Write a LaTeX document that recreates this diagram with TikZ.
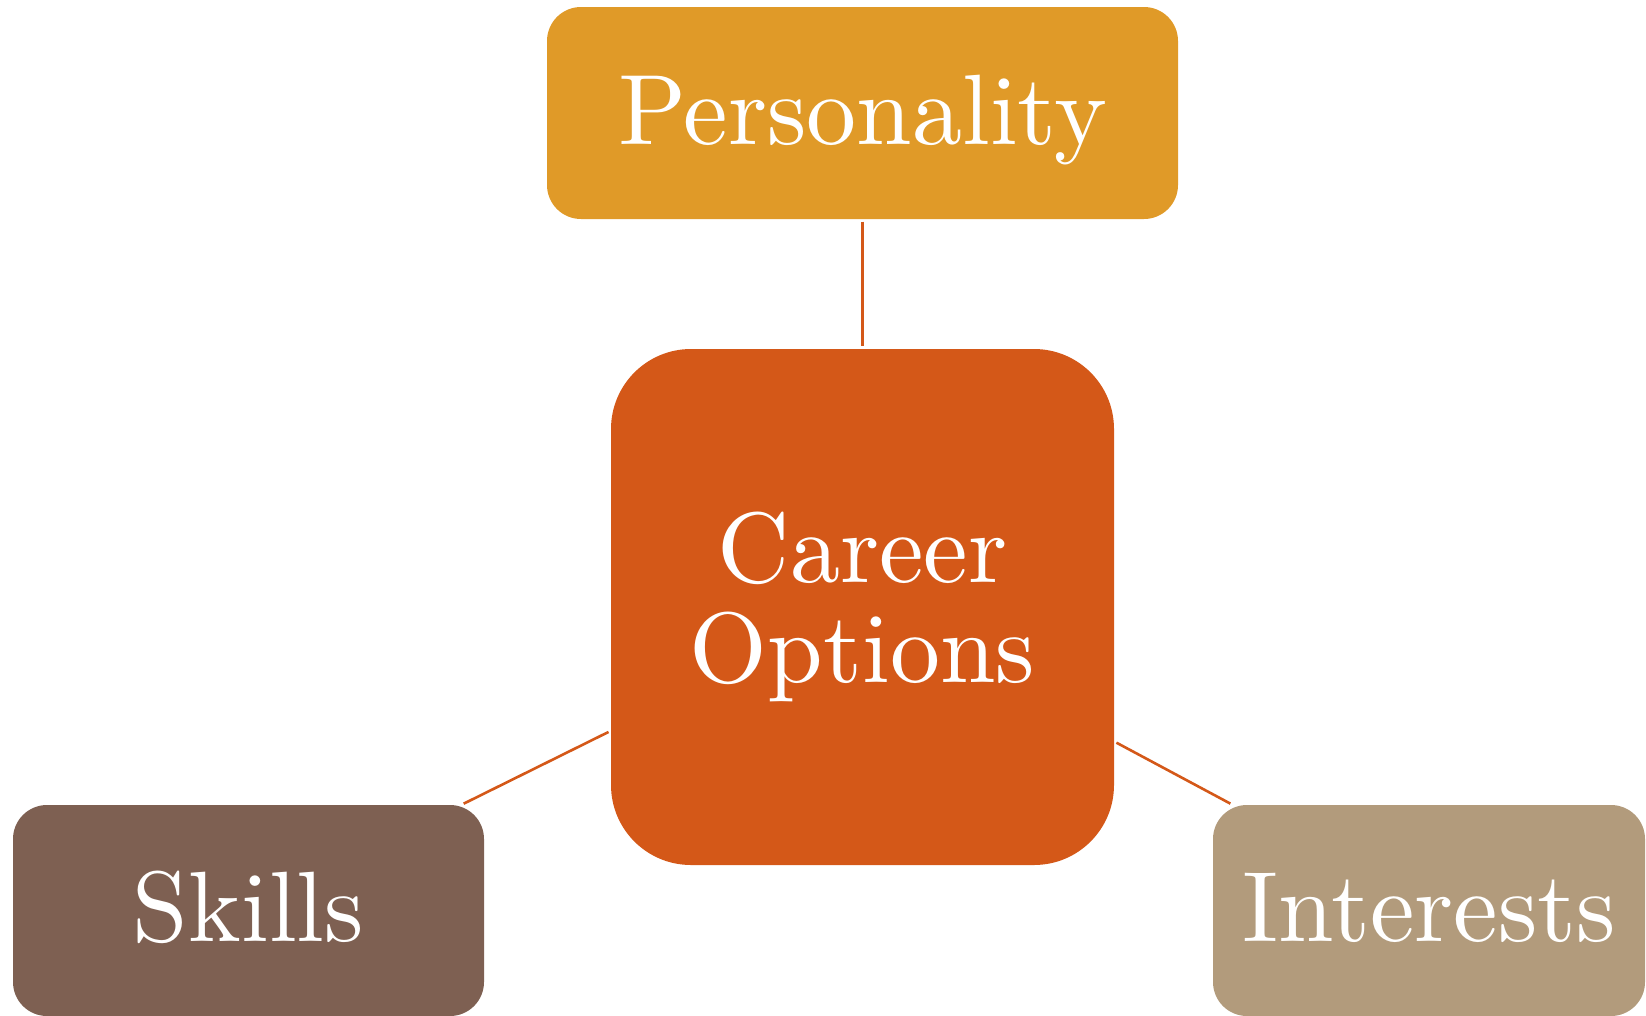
\documentclass[tikz,border=0pt]{standalone}
\usepackage{fontspec}
\setmainfont{lmroman10-regular.otf}
\usepackage{tikz}
\definecolor{personality}{RGB}{224,154,40}
\definecolor{career}{RGB}{212,88,24}
\definecolor{skills}{RGB}{126,96,82}
\definecolor{interests}{RGB}{178,155,124}
\tikzstyle{box} = [inner sep=0pt, text=white, rounded corners=34pt, font=\fontsize{100}{100}\selectfont, text height=68pt, text depth=6pt]
\tikzstyle{hub} = [inner sep=0pt, text=white, rounded corners=80pt, font=\fontsize{100}{100}\selectfont, align=center]
\tikzstyle{link} = [draw=career, line width=2.6pt, shorten <=2.5pt, shorten >=2.5pt]

\begin{document}
\begin{tikzpicture}[x=1pt, y=1pt]
          \useasboundingbox (0, 0) rectangle (1646, -1015);
          \node[hub] [fill=career, minimum width=503pt, minimum height=516pt] (c) at (862.5, -607) {Career\\Options};
          \node[box] [fill=personality, minimum width=631pt, minimum height=212pt] (p) at (862.5, -113) {Personality};
          \node[box] [fill=skills, minimum width=471pt, minimum height=211pt] (s) at (248.5, -910.5) {Skills};
          \node[box] [fill=interests, minimum width=432pt, minimum height=211pt] (i) at (1429, -910.5) {Interests};

          \draw[link] (p) -- (c);
          \draw[link] (c) -- (s);
          \draw[link] (c) -- (i);
        \end{tikzpicture}
\end{document}
